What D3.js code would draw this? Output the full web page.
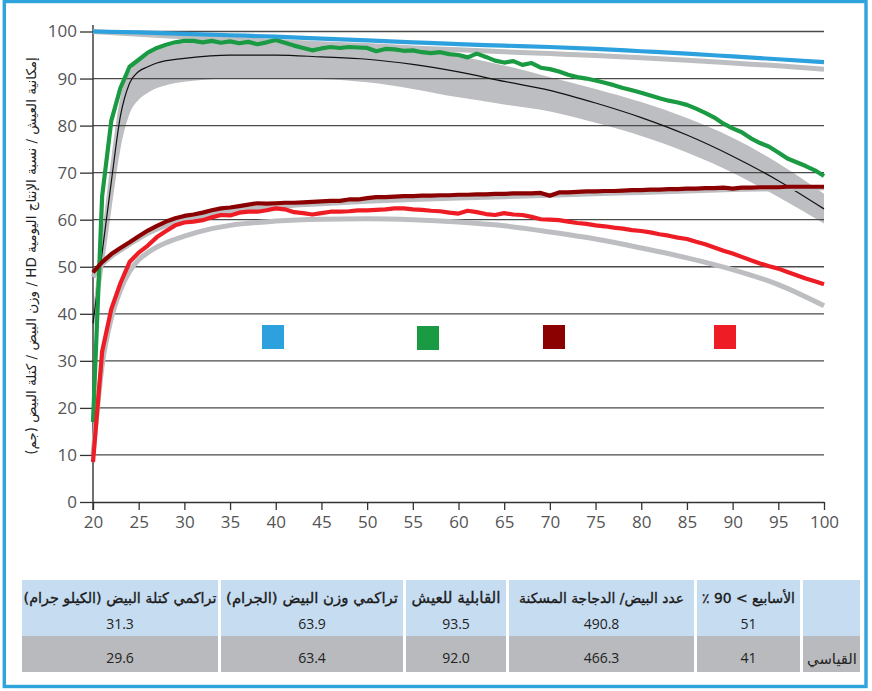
<!DOCTYPE html>
<html><head><meta charset="utf-8">
<script src="https://cdn.jsdelivr.net/npm/d3@7"></script>
<style>body{margin:0;background:#fff} svg{display:block}</style>
</head><body>
<svg id="c" width="872" height="691"></svg>
<script>
// ---------------- DATA ----------------
const weeks = d3.range(20, 101); // weekly x categories 20..100

// product: HD % (green)
const hdProduct = [17,65,81,88,92.5,94,95.5,96.5,97.2,97.7,
  98,98,97.7,98,97.6,97.9,97.5,97.8,97.3,97.7,
  98.2,97.6,97,96.5,96,96.4,96.7,96.5,96.7,96.6,
  96.5,95.8,96.3,96.2,95.9,96,95.6,95.4,95.6,95.2,
  95,94.5,95.3,94.6,93.8,93.4,93.7,92.9,93.3,92.3,
  92,91.5,90.8,90.3,90.0,89.6,89.1,88.6,88.0,87.5,
  87.0,86.4,85.8,85.3,84.9,84.4,83.6,82.7,81.7,80.4,
  79.4,78.6,77.3,76.3,75.5,74.3,73.0,72.2,71.4,70.5,69.3];

// product: egg weight (dark red)
const eggWeightProduct = [48.8,51,52.7,54,55.2,56.5,57.7,58.7,59.6,60.3,
  60.8,61.1,61.5,62.0,62.4,62.6,62.9,63.2,63.5,63.4,
  63.5,63.6,63.6,63.7,63.8,63.9,64.0,64.0,64.3,64.3,
  64.6,64.8,64.8,64.9,65.0,65.0,65.1,65.1,65.2,65.2,
  65.3,65.3,65.4,65.4,65.5,65.5,65.6,65.6,65.6,65.7,
  65.1,65.8,65.8,65.9,66.0,66.0,66.1,66.1,66.2,66.3,
  66.3,66.4,66.4,66.5,66.5,66.6,66.6,66.7,66.7,66.8,
  66.6,66.8,66.8,66.9,66.9,66.9,67.0,67.0,67.0,67.0,67.0];

// product: egg mass (red)
const eggMassProduct = [8.5,32,41,46.5,51,53,54.5,56.3,57.6,58.8,
  59.4,59.6,59.9,60.5,61.0,60.9,61.5,61.7,61.7,62.0,
  62.4,62.2,61.6,61.4,61.1,61.4,61.7,61.7,61.8,62.0,
  62.0,62.1,62.2,62.4,62.4,62.2,62.1,61.9,61.8,61.5,
  61.3,61.9,61.6,61.2,61.0,61.4,61.1,61.0,60.6,60.1,
  60.0,59.9,59.6,59.3,59.1,58.8,58.6,58.3,58.1,57.8,
  57.6,57.3,56.9,56.6,56.2,55.9,55.3,54.8,54.1,53.4,
  52.8,52.1,51.4,50.7,50.1,49.6,48.9,48.2,47.5,46.9,46.3];

// viability (blue product, grey standard)
const viabWeeks = [20,25,30,35,40,45,50,55,60,65,70,75,80,85,90,95,100];
const viabProduct  = [100,99.8,99.5,99.2,98.9,98.5,98.1,97.7,97.3,97.0,96.7,96.3,95.8,95.3,94.7,94.1,93.5];
const viabStandard = [100,99.4,98.9,98.4,97.9,97.4,97.0,96.5,96.1,95.7,95.3,94.9,94.4,93.9,93.3,92.7,92.0];

// standard HD (black line) with range band
const stdWeeks  = [20,21,22,23,24,25,26,27,28,30,35,40,45,50,55,60,65,70,75,80,85,90,95,100];
const hdStandard = [38,53,68,82,89,91.5,92.5,93.3,93.8,94.3,95,95,94.6,94.1,93.0,91.4,89.4,87.5,84.8,81.7,78.0,73.5,68.3,62.3];
const hdUpper    = [41,57,73,86,91.5,93.5,95,96,96.7,97.5,98,98,97.7,97.2,96.3,94.8,92.8,90.3,87.8,85,81.6,77.4,72.0,65.5];
const hdLower    = [36,48,62,75,82.5,85.5,87,88,88.6,89.3,90,90.1,89.9,89.2,87.8,86,84.5,83.0,80.6,77.8,74.3,70.0,64.8,59.2];

// standard egg weight (grey)
const ewStdWeeks = [20,21,22,23,24,25,26,28,30,35,40,45,50,55,60,65,70,75,80,85,90,95,100];
const eggWeightStandard = [47.8,50.5,52.2,53.5,54.8,56,57.1,58.8,60.0,61.8,62.8,63.4,63.9,64.3,64.6,64.9,65.2,65.5,65.8,66.1,66.4,66.6,66.8];

// standard egg mass (grey)
const emStdWeeks = [20,21,22,23,24,25,26,27,28,30,33,35,40,45,50,55,60,65,70,75,80,85,90,95,100];
const eggMassStandard = [10,29,39,45,49,51.5,53,54.2,55.1,56.5,58.1,58.8,59.7,60.1,60.2,60.0,59.5,58.7,57.4,55.9,54.0,51.9,49.4,46.2,41.7];

// axes
const xTicks = [20,25,30,35,40,45,50,55,60,65,70,75,80,85,90,95,100];
const yTicks = [0,10,20,30,40,50,60,70,80,90,100];
const yTitle = "إمكانية العيش / نسبة الإنتاج اليومية HD / وزن البيض / كتلة البيض (جم)";

// legend swatches
const legendColors = ["#2ca1dd", "#1b9a44", "#8b0000", "#ee1d25"];

// table (visual order left -> right)
const tableHeaders = ["تراكمي كتلة البيض (الكيلو جرام)", "تراكمي وزن البيض (الجرام)", "القابلية للعيش", "عدد البيض/ الدجاجة المسكنة", "الأسابيع > 90 ٪", ""];
const productRow  = ["31.3", "63.9", "93.5", "490.8", "51", ""];
const standardRow = ["29.6", "63.4", "92.0", "466.3", "41", "القياسي"];

// ---------------- DRAW ----------------
const svg = d3.select('#c');
const x = d3.scaleLinear().domain([20, 100]).range([93, 824]);
const y = d3.scaleLinear().domain([0, 100]).range([502, 31.5]);
const GREY = '#bdbec1';

// outer frame
svg.append('rect').attr('x', 4.3).attr('y', 1.5).attr('width', 861.7).attr('height', 685)
  .attr('fill', 'none').attr('stroke', '#2ea3dc').attr('stroke-width', 3.4);

// band
const area = d3.area()
  .x((d, i) => x(stdWeeks[i]))
  .y0((d, i) => y(hdLower[i]))
  .y1((d, i) => y(hdUpper[i]))
  .curve(d3.curveMonotoneX);
svg.append('path').datum(hdUpper).attr('d', area).attr('fill', GREY);

// gridlines
svg.append('g').selectAll('line').data(yTicks.filter(t => t > 0)).join('line')
  .attr('x1', x(20)).attr('x2', x(100))
  .attr('y1', d => y(d)).attr('y2', d => y(d))
  .attr('stroke', '#4a4a4a').attr('stroke-width', 1.3);

// axes
const fontNum = "'Open Sans', 'DejaVu Sans', sans-serif";
const yAxis = svg.append('g').attr('transform', `translate(${x(20)},0)`)
  .call(d3.axisLeft(y).tickValues(yTicks).tickSize(13).tickPadding(3));
yAxis.select('.domain').remove();
yAxis.append('line').attr('x1', 0).attr('x2', 0).attr('y1', 25).attr('y2', 510)
  .attr('stroke', '#333').attr('stroke-width', 1.4);
yAxis.selectAll('.tick line').attr('stroke', '#333').attr('stroke-width', 1.3);
yAxis.selectAll('.tick text').attr('font-family', fontNum).attr('font-size', 17)
  .attr('fill', '#555');

const xAxis = svg.append('g').attr('transform', `translate(0,${y(0)})`)
  .call(d3.axisBottom(x).tickValues(xTicks).tickSize(8).tickPadding(6).tickSizeOuter(0));
xAxis.select('.domain').attr('stroke', '#333').attr('stroke-width', 1.4);
xAxis.selectAll('.tick line').attr('stroke', '#333').attr('stroke-width', 1.3);
xAxis.selectAll('.tick text').attr('font-family', fontNum).attr('font-size', 17)
  .attr('fill', '#555');

// lines
function drawLine(xs, ys, color, width, curve) {
  const gen = d3.line().x((d, i) => x(xs[i])).y((d, i) => y(ys[i])).curve(curve || d3.curveLinear);
  svg.append('path').datum(ys).attr('d', gen).attr('fill', 'none')
    .attr('stroke', color).attr('stroke-width', width)
    .attr('stroke-linejoin', 'round').attr('stroke-linecap', 'butt');
}
drawLine(stdWeeks, hdStandard, '#111', 1.2, d3.curveMonotoneX);
drawLine(viabWeeks, viabStandard, GREY, 5, d3.curveMonotoneX);
drawLine(ewStdWeeks, eggWeightStandard, GREY, 5, d3.curveMonotoneX);
drawLine(emStdWeeks, eggMassStandard, GREY, 5, d3.curveMonotoneX);

drawLine(weeks, hdProduct, legendColors[1], 4.2);
drawLine(viabWeeks, viabProduct, legendColors[0], 4.2, d3.curveMonotoneX);
drawLine(weeks, eggMassProduct, legendColors[3], 4.2);
drawLine(weeks, eggWeightProduct, legendColors[2], 4.2);

// legend swatches (labels absent in the reference)
const legendPos = [[262, 325], [417, 326], [543, 325], [714, 325]];
svg.append('g').selectAll('rect').data(legendColors).join('rect')
  .attr('x', (d, i) => legendPos[i][0]).attr('y', (d, i) => legendPos[i][1])
  .attr('width', 22).attr('height', 24).attr('fill', d => d);

// fit helper
function fit(sel, target, base) {
  const len = sel.node().getComputedTextLength();
  if (len > 0) {
    let fs = base * target / len;
    fs = Math.max(base * 0.75, Math.min(base * 1.25, fs));
    sel.attr('font-size', fs);
  }
}

// y title
const arabicFont = "'DejaVu Sans', sans-serif";
const yt = svg.append('text')
  .attr('transform', 'translate(36,256) rotate(-90)')
  .attr('text-anchor', 'middle').attr('direction', 'rtl')
  .attr('font-family', arabicFont).attr('font-size', 14).attr('fill', '#222')
  .text(yTitle);
fit(yt, 398, 14);

// table
const colEdges = [[22, 218], [221, 403], [406, 506], [509, 694], [697, 800], [803, 860]];
const headTargets = [193, 172, 89, 165, 93, 0];
const tg = svg.append('g');
colEdges.forEach((c, i) => {
  tg.append('rect').attr('x', c[0]).attr('y', 580).attr('width', c[1] - c[0]).attr('height', 56).attr('fill', '#c6dcf1');
  tg.append('rect').attr('x', c[0]).attr('y', 636).attr('width', c[1] - c[0]).attr('height', 36).attr('fill', '#b9babd');
  const cx = (c[0] + c[1]) / 2;
  if (tableHeaders[i]) {
    const t = tg.append('text').attr('x', cx).attr('y', 603).attr('text-anchor', 'middle')
      .attr('direction', 'rtl').attr('font-family', arabicFont)
      .attr('font-size', 14).attr('fill', '#1a1a1a')
      .attr('stroke', '#1a1a1a').attr('stroke-width', 0.35)
      .text(tableHeaders[i]);
    fit(t, headTargets[i], 14);
  }
  if (productRow[i]) {
    tg.append('text').attr('x', cx).attr('y', 629).attr('text-anchor', 'middle')
      .attr('font-family', fontNum).attr('font-size', 14).attr('fill', '#222').text(productRow[i]);
  }
  if (standardRow[i]) {
    const isLabel = i === colEdges.length - 1;
    const t = tg.append('text').attr('x', isLabel ? c[1] - 3 : cx).attr('y', isLabel ? 664 : 663)
      .attr('text-anchor', isLabel ? 'start' : 'middle')
      .attr('direction', isLabel ? 'rtl' : 'ltr')
      .attr('font-family', isLabel ? arabicFont : fontNum).attr('font-size', 14).attr('fill', '#222')
      .text(standardRow[i]);
    if (isLabel) fit(t, 50, 14);
  }
});
</script>
</body></html>
